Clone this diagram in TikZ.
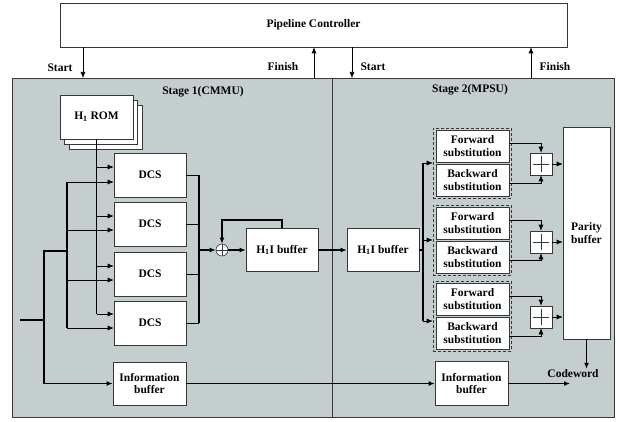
\documentclass[tikz,border=0pt]{standalone}
\usepackage{fontspec}
\setmainfont{Liberation Serif}
\usetikzlibrary{arrows.meta,positioning}
\definecolor{stagebg}{RGB}{197,206,206}
\definecolor{edge}{RGB}{55,55,55}

\begin{document}
\begin{tikzpicture}[
  x=1pt, y=-1pt,
  font=\bfseries\fontsize{11.5}{12.5}\selectfont,
  box/.style={draw=edge, semithick, fill=white, align=center, inner sep=1pt,
              minimum width=72pt, minimum height=44pt},
  sub/.style={draw=edge, thick, fill=white, align=center, inner sep=0pt,
              minimum width=73pt, minimum height=32pt},
  grp/.style={draw=edge, semithick, densely dashed, inner sep=0pt,
              minimum width=78pt, minimum height=70pt},
  stage/.style={draw=edge, semithick, fill=stagebg, inner sep=0pt, minimum height=339pt},
  adder/.style={draw=edge, semithick, fill=white, inner sep=0pt, minimum size=22pt},
  lab/.style={inner sep=1pt},
  arr/.style={-{Latex[length=6pt,width=5pt]}, semithick},
  bus/.style={line width=1.6pt},
  busarr/.style={bus, -{Latex[length=6pt,width=5pt]}}
]
\useasboundingbox (0,0) rectangle (620,422);
% stages and controller
\node[stage, minimum width=320pt] (stageA) at (172,247.5) {};
\node[stage, minimum width=282pt] (stageB) at (473,247.5) {};
\node[lab] at (203,92) {Stage 1(CMMU)};
\node[lab] at (470,90) {Stage 2(MPSU)};
\node[draw=edge, semithick, fill=white, minimum width=507pt, minimum height=44pt] (ctrl)
  at (313.5,25) {Pipeline Controller};
\coordinate (st1) at (83,78);
\coordinate (fi1) at (314,78);
\coordinate (st2) at (352,78);
\coordinate (fi2) at (531,78);
\draw[arr] (ctrl.south -| st1) -- (st1);
\draw[arr] (fi1) -- (ctrl.south -| fi1);
\draw[arr] (ctrl.south -| st2) -- (st2);
\draw[arr] (fi2) -- (ctrl.south -| fi2);
\node[lab] at (60,68) {Start};
\node[lab] at (283,67) {Finish};
\node[lab] at (373,67) {Start};
\node[lab] at (555,67) {Finish};

% stage 1
\node[box, minimum width=73pt] (rom3) at (105.5,127) {};
\node[box, minimum width=73pt] (rom2) at (100.5,122) {};
\node[box, minimum width=73pt] (rom) at (96.5,117) {H\textsubscript{1} ROM};
\node[box] (dcs1) at (150,175) {DCS};
\node[box] (dcs2) at (150,224) {DCS};
\node[box] (dcs3) at (150,274) {DCS};
\node[box] (dcs4) at (150,323) {DCS};
\node[box, minimum width=73pt, minimum height=43pt] (info1) at (149.5,383.5)
  {Information\\ buffer};
\node[circle, draw=edge, semithick, fill=white, inner sep=0pt, minimum size=12pt] (xor)
  at (222,250) {};
\draw[edge, semithick] (xor.north) -- (xor.south) (xor.west) -- (xor.east);
\node[box, minimum height=43pt] (hbuf1) at (282,250) {H\textsubscript{1}I buffer};

\coordinate (r1) at ([yshift=8pt]dcs1.west);
\coordinate (r2) at ([yshift=8pt]dcs2.west);
\coordinate (r3) at ([yshift=8pt]dcs3.west);
\coordinate (r4) at ([yshift=9pt]dcs4.west);
\coordinate (d1) at ([yshift=-7pt]dcs1.west);
\coordinate (d2) at ([yshift=-6pt]dcs2.west);
\coordinate (d3) at ([yshift=-6pt]dcs3.west);
\coordinate (d4) at ([yshift=-5pt]dcs4.west);
\coordinate (in) at (20,320);
\coordinate (j1) at (44,251);
\coordinate (j2) at (67,251);
\coordinate (obus) at (199,250);

\draw[bus] (rom.south) -- (rom.south |- r4);
\draw[arr] (rom.south |- r1) -- (r1);
\draw[arr] (rom.south |- r2) -- (r2);
\draw[arr] (rom.south |- r3) -- (r3);
\draw[arr] (rom.south |- r4) -- (r4);
\draw[bus] (in) -- (in -| j1);
\draw[bus] (j1 |- info1) -- (j1) -- (j2);
\draw[bus] (d1 -| j2) -- (d4 -| j2);
\draw[arr] (d1 -| j2) -- (d1);
\draw[arr] (d2 -| j2) -- (d2);
\draw[arr] (d3 -| j2) -- (d3);
\draw[arr] (d4 -| j2) -- (d4);
\draw[busarr] (j1 |- info1) -- (info1);
\draw[semithick] (dcs1.east) -- (dcs1.east -| obus);
\draw[semithick] (dcs2.east) -- (dcs2.east -| obus);
\draw[semithick] (dcs3.east) -- (dcs3.east -| obus);
\draw[semithick] (dcs4.east) -- (dcs4.east -| obus);
\draw[bus] (dcs1.east -| obus) -- (dcs4.east -| obus);
\draw[busarr] (obus) -- (xor.west);
\draw[busarr] (xor.east) -- (hbuf1.west);
\draw[busarr] (hbuf1.north) -- ++(0,-8) -| (xor.north);

% stage 2
\node[box, minimum height=43pt] (hbuf2) at (383,250) {H\textsubscript{1}I buffer};
\node[box, minimum width=73pt] (info2) at (471.5,383.5) {Information\\ buffer};
\node[grp] (grp1) at (472,163) {};
\node[grp] (grp2) at (472,240) {};
\node[grp] (grp3) at (472,316) {};
\node[sub] (fwd1) at (472.5,146) {Forward\\ substitution};
\node[sub] (bwd1) at (472.5,180) {Backward\\ substitution};
\node[sub] (fwd2) at (472.5,223) {Forward\\ substitution};
\node[sub] (bwd2) at (472.5,257) {Backward\\ substitution};
\node[sub] (fwd3) at (472.5,299) {Forward\\ substitution};
\node[sub] (bwd3) at (472.5,333) {Backward\\ substitution};
\node[adder] (add1) at (541,164) {};
\node[adder] (add2) at (541,242) {};
\node[adder] (add3) at (541,317) {};
\draw[edge] (add1.center) ++(-8,0) -- ++(16,0) (add1.center) ++(0,-8) -- ++(0,16);
\draw[edge] (add2.center) ++(-8,0) -- ++(16,0) (add2.center) ++(0,-8) -- ++(0,16);
\draw[edge] (add3.center) ++(-8,0) -- ++(16,0) (add3.center) ++(0,-8) -- ++(0,16);
\node[box, minimum width=47pt, minimum height=212pt] (parity) at (586.5,233)
  {Parity\\ buffer};
\node[lab] (cw) at (573,374) {Codeword};
\coordinate (sbus) at (423,250);
\coordinate (g3in) at ([yshift=-5pt]grp3.west);
\coordinate (cwin) at (570,383.5);

\draw[busarr] (hbuf1.east) -- (hbuf2.west);
\draw[bus] (hbuf2.east) -- (sbus);
\draw[bus] (sbus |- grp1.west) -- (sbus |- g3in);
\draw[arr] (sbus |- grp1.west) -- (grp1.west);
\draw[arr] (sbus |- grp2.west) -- (grp2.west);
\draw[arr] (sbus |- g3in) -- (g3in);
\draw[arr] ([yshift=3pt]fwd1.east) -| (add1.north);
\draw[arr] ([yshift=-3pt]bwd1.east) -| (add1.south);
\draw[arr] ([yshift=3pt]fwd2.east) -| (add2.north);
\draw[arr] ([yshift=-3pt]bwd2.east) -| (add2.south);
\draw[arr] ([yshift=3pt]fwd3.east) -| (add3.north);
\draw[arr] ([yshift=-3pt]bwd3.east) -| (add3.south);
\draw[arr] (add1.east) -- (add1.east -| parity.west);
\draw[arr] (add2.east) -- (add2.east -| parity.west);
\draw[arr] (add3.east) -- (add3.east -| parity.west);
\draw[busarr] (parity.south) -- (parity.south |- cw.north);
\draw[busarr] (info1) -- (info2);
\draw[busarr] (info2.east) -- (cwin);
\end{tikzpicture}
\end{document}
